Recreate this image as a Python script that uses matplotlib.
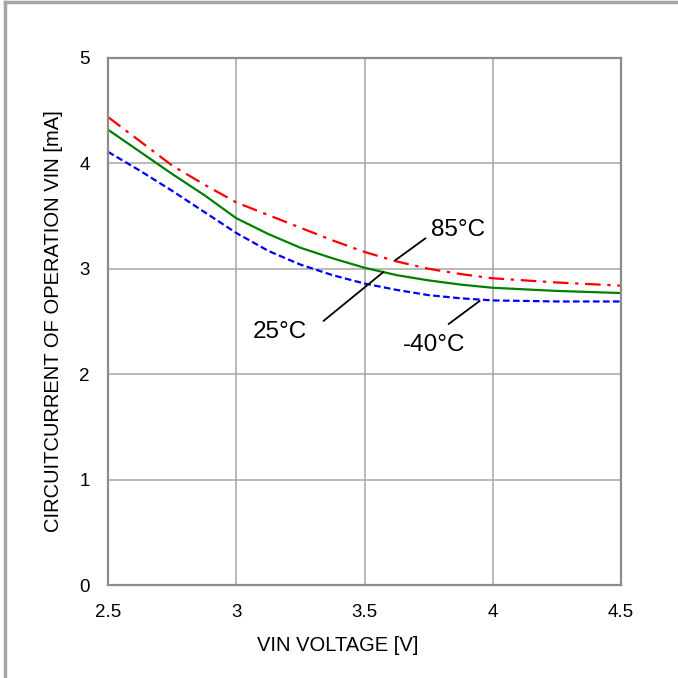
import matplotlib
matplotlib.use("Agg")
import matplotlib.pyplot as plt
from matplotlib.lines import Line2D

plt.rcParams['font.family'] = ['Liberation Sans', 'DejaVu Sans']

vin = [2.5, 2.625, 2.75, 2.875, 3.0, 3.125, 3.25, 3.375, 3.5, 3.625, 3.75, 3.875, 4.0, 4.25, 4.5]
i_85 = [4.44, 4.21, 3.98, 3.80, 3.63, 3.51, 3.39, 3.27, 3.16, 3.07, 3.00, 2.95, 2.91, 2.87, 2.84]
i_25 = [4.32, 4.11, 3.90, 3.70, 3.48, 3.33, 3.20, 3.10, 3.01, 2.94, 2.89, 2.85, 2.82, 2.79, 2.77]
i_m40 = [4.11, 3.93, 3.74, 3.54, 3.34, 3.17, 3.04, 2.94, 2.86, 2.80, 2.75, 2.72, 2.70, 2.69, 2.69]

xticks = [2.5, 3, 3.5, 4, 4.5]
xticklabels = ['2.5', '3', '3.5', '4', '4.5']
yticks = [0, 1, 2, 3, 4, 5]

fig = plt.figure(figsize=(6.78, 6.78), dpi=100)
ax = fig.add_axes([108/678, 1-585/678, (621-108)/678, (585-58)/678])

ax.plot(vin, i_85, color='#ff0000', lw=1.6, linestyle=(0, (7, 3, 1.5, 3)))
ax.plot(vin, i_25, color='#008000', lw=1.6, linestyle='-')
ax.plot(vin, i_m40, color='#0000ff', lw=1.6, linestyle=(0, (3, 1.5)))

ax.set_xlim(2.5, 4.5)
ax.set_ylim(0, 5)
ax.set_xticks(xticks)
ax.set_xticklabels(xticklabels)
ax.set_yticks(yticks)
ax.grid(True, color='#a6a6a6', lw=1.1)
ax.set_axisbelow(True)
for s in ax.spines.values():
    s.set_color('#8c8c8c')
    s.set_linewidth(1.6)
ax.tick_params(length=0, labelsize=13.5, colors='black')
ax.tick_params(axis='x', pad=14)
ax.tick_params(axis='y', pad=13)
ax.set_xlabel('VIN VOLTAGE [V]', fontsize=14.5, va='center')
ax.xaxis.set_label_coords(0.448, -0.114)
ax.set_ylabel('CIRCUITCURRENT OF OPERATION VIN [mA]', fontsize=14.5, labelpad=12)

# annotations with leader lines
lead = dict(arrowstyle='-', color='black', lw=1.3, shrinkA=0, shrinkB=0)
ax.text(3.76, 3.37, '85°C', fontsize=17.5, ha='left', va='center')
ax.annotate('', xy=(3.621, 3.083), xytext=(3.738, 3.29), arrowprops=lead)
ax.text(3.17, 2.40, '25°C', fontsize=17.5, ha='center', va='center')
ax.annotate('', xy=(3.574, 2.97), xytext=(3.34, 2.505), arrowprops=lead)
ax.text(3.77, 2.28, '-40°C', fontsize=17.5, ha='center', va='center')
ax.annotate('', xy=(3.949, 2.695), xytext=(3.828, 2.476), arrowprops=lead)

# figure frame (left and top edges)
fig.add_artist(Line2D([5/678, 5/678], [0, 1-2/678], transform=fig.transFigure,
                      color='#a6a6a6', lw=2.5))
fig.add_artist(Line2D([5/678, 1], [1-2/678, 1-2/678], transform=fig.transFigure,
                      color='#a6a6a6', lw=2.5))

fig.savefig('out.png', dpi=100)
